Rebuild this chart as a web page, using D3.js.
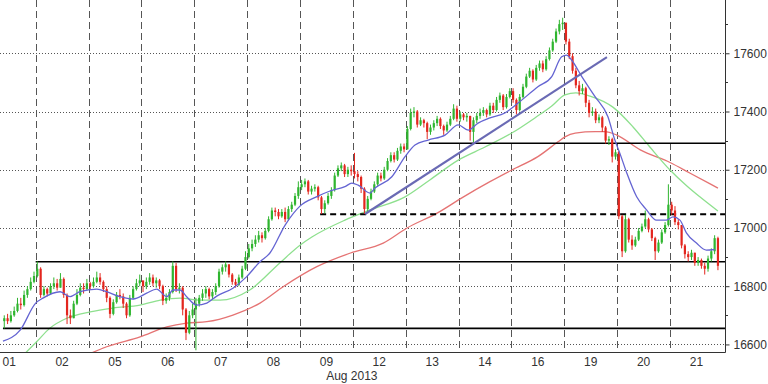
<!DOCTYPE html>
<html>
<head>
<meta charset="utf-8">
<script src="https://cdn.jsdelivr.net/npm/d3@7"></script>
<style>
  html, body { margin: 0; padding: 0; background: #fff; }
  svg { display: block; }
  text { font-family: "Liberation Sans", Arial, sans-serif; }
</style>
</head>
<body>
<svg id="chart" width="768" height="384"></svg>
<script>
// ---------------- DATA ----------------
const dayLabels = ["01","02","05","06","07","08","09","12","13","14","16","19","20","21"];
const slotsPerDay = 16;
const firstSlot = 6;            // first visible candle slot (day 01 is partial)
const monthLabel = "Aug 2013";
const yMajorTicks = [16600, 16800, 17000, 17200, 17400, 17600];
const yMinorTicks = [16700, 16900, 17100, 17300, 17500, 17700];
const firstOpen = 16680;

const closes = [
  16690,16680,16700,16715,16740,16735,16770,16790,16815,16835,
  16860,16770,16790,16775,16800,16810,16795,16825,16770,16700,16690,16740,16770,16795,16790,16810,
  16800,16815,16830,16815,16790,16760,16705,16745,16770,16765,16740,16700,16760,16790,16810,16820,
  16800,16815,16830,16810,16820,16800,16750,16760,16780,16870,16790,16795,16720,16640,16700,16720,
  16740,16760,16775,16790,16765,16780,16800,16850,16865,16875,16840,16815,16805,16830,16860,16900,
  16930,16945,16960,16975,16965,16990,17030,17060,17055,17040,17055,17030,17065,17080,17110,17140,
  17150,17160,17125,17135,17140,17105,17065,17085,17110,17130,17180,17205,17215,17185,17200,17195,
  17185,17175,17135,17065,17100,17125,17150,17180,17170,17200,17230,17250,17235,17265,17280,17270,
  17340,17395,17400,17355,17370,17360,17330,17345,17360,17375,17350,17335,17355,17375,17410,17375,
  17390,17380,17385,17330,17370,17385,17395,17405,17390,17420,17405,17440,17455,17415,17450,17470,
  17440,17405,17450,17485,17520,17540,17510,17550,17565,17545,17580,17610,17640,17675,17700,17705,
  17640,17590,17540,17490,17470,17480,17430,17395,17400,17370,17380,17345,17300,17305,17245,17260,
  17040,16920,17030,16960,16940,16960,16990,17005,17030,16995,16965,16920,16950,16985,17010,17080,
  17060,17020,17010,16940,16910,16900,16915,16880,16890,16870,16860,16895,16920,16965,16870
];
const highs = [
  16700,16705,16715,16730,16760,16760,16785,16800,16830,16850,
  16885,16865,16800,16795,16810,16830,16825,16845,16830,16775,16720,16750,16790,16810,16810,16825,
  16815,16830,16850,16845,16820,16800,16765,16755,16780,16790,16775,16745,16770,16800,16825,16840,
  16815,16830,16845,16840,16830,16825,16805,16775,16790,16885,16880,16810,16800,16725,16715,16740,
  16760,16770,16790,16800,16795,16790,16810,16860,16875,16885,16875,16845,16825,16840,16870,16920,
  16945,16960,16975,16990,16985,17000,17040,17070,17070,17065,17065,17070,17075,17090,17120,17160,
  17165,17170,17165,17145,17150,17145,17110,17095,17120,17140,17190,17215,17225,17220,17210,17215,
  17258,17195,17180,17140,17110,17135,17160,17190,17190,17210,17240,17260,17260,17275,17290,17290,
  17350,17410,17415,17405,17380,17375,17365,17355,17370,17385,17380,17355,17365,17385,17425,17420,
  17400,17395,17395,17385,17380,17395,17410,17415,17410,17430,17430,17450,17465,17460,17460,17480,
  17480,17445,17460,17495,17530,17550,17545,17560,17575,17575,17590,17620,17650,17685,17715,17722,
  17705,17650,17600,17550,17505,17495,17485,17440,17415,17410,17390,17385,17350,17315,17310,17270,
  17265,17045,17045,17035,16975,16970,17000,17015,17060,17035,17000,16970,16960,16995,17020,17150,
  17090,17075,17030,17010,16945,16920,16925,16915,16900,16895,16880,16905,16930,16975,16970
];
const lows = [
  16655,16670,16675,16695,16710,16720,16730,16760,16785,16810,
  16830,16760,16765,16765,16770,16790,16785,16795,16760,16670,16670,16690,16735,16765,16775,16785,
  16790,16795,16810,16805,16780,16745,16690,16700,16740,16755,16725,16690,16695,16755,16785,16800,
  16780,16790,16805,16800,16795,16790,16735,16740,16750,16775,16780,16775,16700,16615,16635,16690,
  16580,16730,16750,16760,16755,16755,16770,16795,16840,16850,16830,16805,16795,16800,16825,16855,
  16895,16920,16935,16950,16950,16960,16985,17025,17040,17030,17035,17020,17025,17055,17075,17100,
  17130,17140,17115,17115,17125,17095,17048,17050,17080,17100,17125,17175,17195,17175,17175,17180,
  17170,17160,17120,17048,17055,17095,17120,17145,17160,17165,17195,17225,17225,17230,17255,17260,
  17270,17335,17380,17345,17350,17345,17305,17320,17335,17350,17340,17320,17330,17350,17370,17365,
  17365,17370,17365,17300,17295,17360,17375,17385,17380,17385,17395,17400,17430,17405,17410,17445,
  17430,17390,17400,17445,17480,17515,17500,17505,17540,17535,17540,17575,17605,17635,17665,17680,
  17630,17580,17530,17480,17455,17460,17415,17380,17385,17360,17360,17330,17290,17285,17225,17235,
  17030,16900,16915,16950,16925,16935,16955,16985,17000,16985,16955,16890,16915,16945,16980,17005,
  17045,17010,16995,16930,16895,16885,16890,16870,16870,16860,16840,16850,16885,16910,16855
];

// moving averages: read at time slots
const blueSlots = [5.6,10.8,15.5,17.7,22.9,25.9,28.9,34,37,41,45,49.1,52.1,55.2,57.1,59.2,61.2,64.2,67.3,70.3,75.2,79.3,83.4,86.4,91,95.5,100.3,104.6,109.1,111.2,113.1,116.7,118.2,123.3,127.3,130.3,134.3,139.4,143.4,146.4,149.4,153,157.5,161.5,167.5,171.7,174.7,176.2,177.7,180.8,184.8,188.7,190.8,192.3,194.4,197.4,200.4,203.4,206.4,208.4,210.5,212.5,215.5,218.5,221];
const blueMA = [16611,16649,16742,16759,16781,16764,16781,16790,16781,16764,16756,16776,16790,16764,16787,16787,16764,16735,16742,16766,16793,16832,16884,16914,17010,17075,17106,17127,17142,17154,17147,17120,17137,17176,17245,17285,17302,17319,17354,17336,17360,17378,17395,17429,17485,17520,17588,17594,17577,17520,17451,17382,17302,17257,17189,17107,17062,17027,17027,17038,17027,16982,16948,16924,16926];

const greenSlots = [11,15.8,19.8,24.9,32,38.9,47.1,53.2,59.2,65.3,71.3,80.3,89.3,95.5,99.1,109.1,116.7,127.3,134.8,143.4,151.5,159.6,166.6,171.7,175.7,179,183.3,190.2,196.3,201.4,207.5,212.6,216.6,222];
const greenMA = [16555,16609,16656,16690,16712,16725,16735,16752,16759,16752,16752,16787,16879,16941,16969,17027,17062,17107,17165,17233,17278,17326,17378,17419,17457,17464,17453,17415,17347,17278,17199,17144,17106,17058];

const redSlots = [28.9,37,47.1,55.2,61.2,67.3,75.2,83.4,90.4,100.6,110.8,120.7,127.9,137,145,153,159.6,167.5,173.6,175.7,178.8,184.8,187.8,191.4,198.5,207.5,213.6,222];
const redMA = [16553,16592,16626,16660,16673,16678,16701,16742,16798,16867,16914,16948,17000,17051,17107,17159,17199,17245,17296,17313,17326,17331,17331,17319,17268,17225,17188,17137];

// drawn levels: value, start slot, dashed
const levelValues = [16884, 16655, 17291, 17047];
const levelStarts = [16, 6.1, 135, 102.1];
const levelDashed = [false, false, false, true];

// trend line: [slot, value] endpoints
const trendSlots = [115.7, 188.9];
const trendValues = [17048, 17587];

// ---------------- DRAW ----------------
const W = 768, H = 384;
const plotR = 725, plotB = 352;
const svg = d3.select("#chart");

const x = d3.scaleLinear().domain([0, dayLabels.length * slotsPerDay]).range([-17.2, 722.9]);
const y = d3.scaleLinear().domain([16574, 17783]).range([plotB, 0]);

svg.append("defs").append("clipPath").attr("id", "clip")
  .append("rect").attr("x", 0).attr("y", 0).attr("width", plotR).attr("height", plotB);

// horizontal dotted grid
svg.append("g").selectAll("line").data(yMajorTicks).join("line")
  .attr("x1", 0).attr("x2", plotR)
  .attr("y1", d => Math.round(y(d)) + 0.5).attr("y2", d => Math.round(y(d)) + 0.5)
  .attr("stroke", "#555").attr("stroke-width", 1).attr("stroke-dasharray", "1,2");

// vertical dashed day separators
const boundaries = d3.range(1, dayLabels.length).map(k => k * slotsPerDay);
svg.append("g").selectAll("line").data(boundaries).join("line")
  .attr("x1", d => Math.round(x(d)) + 0.5).attr("x2", d => Math.round(x(d)) + 0.5)
  .attr("y1", 0).attr("y2", plotB)
  .attr("stroke", "#555").attr("stroke-width", 1).attr("stroke-dasharray", "7,4");

const plot = svg.append("g").attr("clip-path", "url(#clip)");

// moving averages
const maLine = d3.line().x(d => x(d[0] + 0.5)).y(d => y(d[1])).curve(d3.curveMonotoneX);
function drawMA(slots, vals, color, w) {
  plot.append("path").datum(slots.map((s, i) => [s, vals[i]]))
    .attr("d", maLine).attr("fill", "none").attr("stroke", color).attr("stroke-width", w);
}
drawMA(redSlots, redMA, "#e57373", 1.3);
drawMA(greenSlots, greenMA, "#8ee08e", 1.3);

// levels
levelValues.forEach((v, i) => {
  plot.append("line")
    .attr("x1", x(levelStarts[i])).attr("x2", plotR)
    .attr("y1", y(v)).attr("y2", y(v))
    .attr("stroke", "#000").attr("stroke-width", levelDashed[i] ? 2 : 1.6)
    .attr("stroke-dasharray", levelDashed[i] ? "6,4" : null);
});

// candles
const candles = closes.map((c, i) => ({
  slot: firstSlot + i,
  open: i === 0 ? firstOpen : closes[i - 1],
  close: c, high: highs[i], low: lows[i]
}));
const cg = plot.append("g");
cg.selectAll("line").data(candles).join("line")
  .attr("x1", d => x(d.slot + 0.5)).attr("x2", d => x(d.slot + 0.5))
  .attr("y1", d => y(d.high)).attr("y2", d => y(d.low))
  .attr("stroke", d => d.close >= d.open ? "#2fb52f" : "#e3261e").attr("stroke-width", 1);
cg.selectAll("rect").data(candles).join("rect")
  .attr("x", d => x(d.slot + 0.5) - 1.1).attr("width", 2.2)
  .attr("y", d => y(Math.max(d.open, d.close)))
  .attr("height", d => Math.max(1, Math.abs(y(d.open) - y(d.close))))
  .attr("fill", d => d.close >= d.open ? "#2fb52f" : "#e3261e");

// blue MA on top of candles
drawMA(blueSlots, blueMA, "#6464d2", 1.3);

// trend line
plot.append("line")
  .attr("x1", x(trendSlots[0])).attr("y1", y(trendValues[0]))
  .attr("x2", x(trendSlots[1])).attr("y2", y(trendValues[1]))
  .attr("stroke", "#6a6ab4").attr("stroke-width", 2.2);

// axes lines
svg.append("line").attr("x1", 0).attr("x2", plotR + 0.5).attr("y1", plotB + 0.5).attr("y2", plotB + 0.5)
  .attr("stroke", "#333");
svg.append("line").attr("x1", plotR + 0.5).attr("x2", plotR + 0.5).attr("y1", 0).attr("y2", plotB + 0.5)
  .attr("stroke", "#333");

// right axis
const yAxis = d3.axisRight(y).tickValues(yMajorTicks).tickSize(4).tickPadding(4).tickFormat(d3.format("d"));
const ya = svg.append("g").attr("transform", `translate(${plotR + 0.5},0)`).call(yAxis);
ya.select(".domain").remove();
ya.selectAll("line").attr("stroke", "#333");
ya.selectAll("text").attr("font-size", 12).attr("fill", "#333")
  .attr("font-family", "'Liberation Sans', Arial, sans-serif");
svg.append("g").selectAll("line").data(yMinorTicks).join("line")
  .attr("x1", plotR).attr("x2", plotR + 3)
  .attr("y1", d => Math.round(y(d)) + 0.5).attr("y2", d => Math.round(y(d)) + 0.5)
  .attr("stroke", "#333");

// bottom labels
svg.append("g").selectAll("text").data(dayLabels).join("text")
  .attr("x", (d, i) => x(i * slotsPerDay + slotsPerDay / 2))
  .attr("y", 366)
  .attr("text-anchor", "middle").attr("font-size", 12).attr("fill", "#333")
  .text(d => d);
svg.append("text").attr("x", x(7 * slotsPerDay) - 1).attr("y", 380)
  .attr("text-anchor", "middle").attr("font-size", 12).attr("fill", "#333")
  .text(monthLabel);
</script>
</body>
</html>
